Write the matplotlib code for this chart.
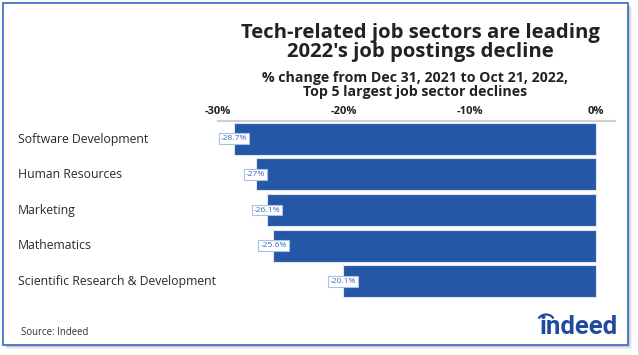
import matplotlib.pyplot as plt
from matplotlib.patches import Rectangle, Arc

plt.rcParams["font.family"] = ["Open Sans", "DejaVu Sans"]

sectors = [
    "Software Development",
    "Human Resources",
    "Marketing",
    "Mathematics",
    "Scientific Research & Development",
]
pct_change = [-28.7, -27.0, -26.1, -25.6, -20.1]
value_labels = ["-28.7%", "-27%", "-26.1%", "-25.6%", "-20.1%"]
xticks = [-30, -20, -10, 0]
xtick_labels = ["-30%", "-20%", "-10%", "0%"]

W, H = 638, 355
BLUE = "#2557a7"

fig = plt.figure(figsize=(W / 100, H / 100), dpi=100)


def fx(px):
    return px / W


def fy(py):
    return 1 - py / H


# frame with soft shadow
for i, a in enumerate([0.10, 0.14, 0.20]):
    off = 4 - i
    fig.patches.append(Rectangle((fx(3 + off), fy(345 + off)), fx(625), 342 / H,
                                 transform=fig.transFigure, facecolor="#808080",
                                 edgecolor="none", alpha=a, zorder=0))
fig.patches.append(Rectangle((fx(3), fy(345)), fx(625), 342 / H,
                             transform=fig.transFigure, facecolor="white",
                             edgecolor="#4472c4", linewidth=1.3, zorder=1))

ax = fig.add_axes([fx(218), fy(299), fx(615 - 218), (299 - 121) / H])
ax.set_zorder(2)
ax.patch.set_visible(False)

ypos = list(range(len(sectors)))
ax.barh(ypos, pct_change, height=0.9, color=BLUE, edgecolor="#dfe6f2",
        linewidth=0.8, zorder=3)

for y, v, lab in zip(ypos, pct_change, value_labels):
    ax.text(v, y, lab, ha="center", va="center", fontsize=6.1, color="#3d6cc0",
            zorder=5,
            bbox=dict(boxstyle="square,pad=0.22", facecolor="white",
                      edgecolor="#a9c0e6", linewidth=0.8))

ax.set_xlim(-30, 1.5)
ax.set_ylim(4.5, -0.5)
ax.set_xticks(xticks)
ax.set_xticklabels(xtick_labels, fontsize=8, fontweight="bold", color="#222222")
ax.xaxis.tick_top()
ax.tick_params(axis="x", length=0, pad=3)
ax.set_yticks([])
for side in ["left", "right", "bottom"]:
    ax.spines[side].set_visible(False)
ax.spines["top"].set_color("#d0d0d0")
ax.spines["top"].set_linewidth(1.5)

for y, name in zip(ypos, sectors):
    fig.text(fx(18), fy(139.5 + y * 35.4), name, ha="left", va="center",
             fontsize=8.8, color="#2a2a2a")

fig.text(fx(420), fy(42.5), "Tech-related job sectors are leading\n2022's job postings decline",
         ha="center", va="center", fontsize=14.6, fontweight="bold", color="#222222",
         linespacing=0.98)
fig.text(fx(415), fy(85), "% change from Dec 31, 2021 to Oct 21, 2022,\nTop 5 largest job sector declines",
         ha="center", va="center", fontsize=10.2, fontweight="bold", color="#222222",
         linespacing=1.08)

fig.text(fx(21), fy(335), "Source: Indeed", ha="left", va="baseline",
         fontsize=6.9, color="#333333")

LOGO = "#1f4c9e"
fig.text(fx(618), fy(334), "indeed", ha="right", va="baseline", fontsize=18.5,
         fontweight="bold", color=LOGO, family=["Roboto", "DejaVu Sans"])
logo_arc = Arc((fx(546), fy(321)), fx(16), 13 / H, theta1=30, theta2=150,
               transform=fig.transFigure, color=LOGO, linewidth=1.6)
fig.patches.append(logo_arc)

fig.savefig("out.png", dpi=100)
